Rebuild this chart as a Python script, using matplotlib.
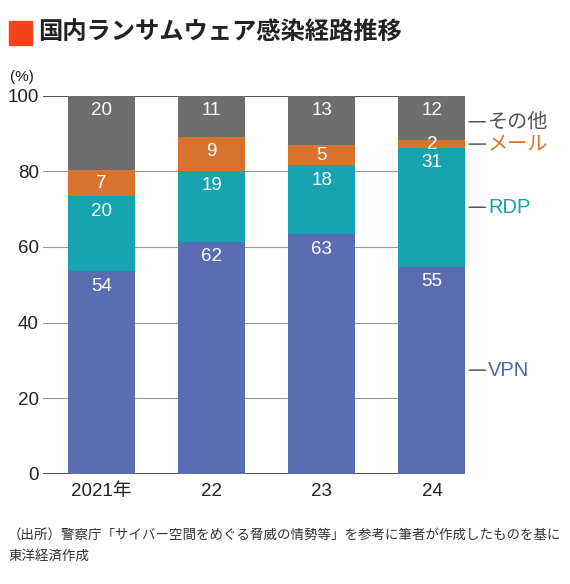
import matplotlib
matplotlib.use("Agg")
import matplotlib.pyplot as plt
from matplotlib.patches import Rectangle

plt.rcParams['font.family'] = ['Liberation Sans', 'Noto Sans CJK JP', 'DejaVu Sans']

years = ["2021年", "22", "23", "24"]
series_names = ["VPN", "RDP", "メール", "その他"]
vpn = [53.6, 61.4, 63.4, 54.8]
rdp = [19.8, 18.8, 18.2, 31.4]
mail = [6.9, 9.0, 5.3, 2.0]
other = [19.7, 10.8, 13.1, 11.8]
shown = [[54, 62, 63, 55], [20, 19, 18, 31], [7, 9, 5, 2], [20, 11, 13, 12]]
yticks = [0, 20, 40, 60, 80, 100]

bar_colors = ["#5a6db3", "#18a3b1", "#d8732f", "#6e6e6e"]
text_colors = ["#4f66aa", "#16a0aa", "#d8732f", "#555555"]

fig = plt.figure(figsize=(5.7, 5.84), dpi=100)
ax = fig.add_axes([43/570, 1 - 473.7/584, (465 - 43)/570, (473.7 - 95.7)/584])

x = list(range(len(years)))
bottom = [0.0] * len(years)
series = [vpn, rdp, mail, other]
for k, vals in enumerate(series):
    ax.bar(x, vals, width=0.61, bottom=bottom, color=bar_colors[k], zorder=2)
    for i, v in enumerate(vals):
        top = bottom[i] + v
        ypos = top - min(4.0, v / 2)
        ax.text(i, ypos, str(shown[k][i]), ha='center', va='center',
                color='white', fontsize=13.5, zorder=3)
    # legend-style label to the right of the last bar
    mid = bottom[-1] + vals[-1] / 2
    if k == 3:
        mid -= 1.0
    ax.annotate(series_names[k], xy=(3.30, mid), xycoords='data',
                xytext=(3.30 + 0.21, mid), textcoords='data',
                va='center', ha='left', fontsize=14.5, color=text_colors[k],
                annotation_clip=False,
                arrowprops=dict(arrowstyle='-', color='#444444', lw=1,
                                shrinkA=0, shrinkB=3))
    bottom = [b + v for b, v in zip(bottom, vals)]

for t in yticks:
    if t in (0, 100):
        ax.axhline(t, color='#444444', lw=1.3, zorder=1)
    else:
        ax.axhline(t, color='#999999', lw=0.8, zorder=1)

ax.set_xlim(-0.53, 3.30)
ax.set_ylim(0, 100)
ax.set_yticks(yticks)
ax.set_xticks(x)
ax.set_xticklabels(years)
ax.tick_params(axis='both', length=0, labelsize=13.5, colors='#222222')
ax.tick_params(axis='y', pad=3)
ax.tick_params(axis='x', pad=7)
for s in ax.spines.values():
    s.set_visible(False)

fig.text(10/570, 1 - 77/584, "(%)", fontsize=11, color='#222222', va='center')

fig.patches.append(Rectangle((9/570, 1 - 45/584), 23/570, 24/584,
                             transform=fig.transFigure, color='#f2431c'))
fig.text(38/570, 1 - 33/584, "国内ランサムウェア感染経路推移", fontsize=17.5,
         fontweight='bold', color='#222222', va='center',
         family=['Noto Sans CJK JP'])

fig.text(8/570, 1 - 535/584,
         "（出所）警察庁「サイバー空間をめぐる脅威の情勢等」を参考に筆者が作成したものを基に",
         fontsize=9.7, color='#333333', va='center', family=['Noto Sans CJK JP'])
fig.text(8/570, 1 - 556/584, "東洋経済作成",
         fontsize=9.7, color='#333333', va='center', family=['Noto Sans CJK JP'])

fig.savefig("out.png", dpi=100)
